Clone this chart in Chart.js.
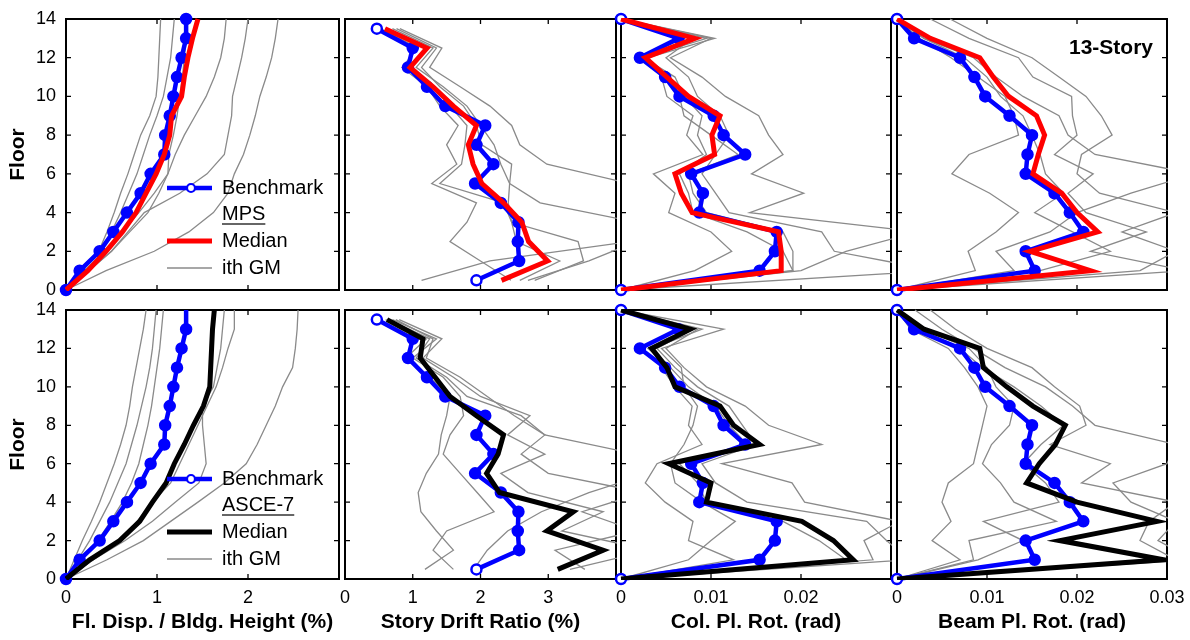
<!DOCTYPE html>
<html>
<head>
<meta charset="utf-8">
<script src="https://cdn.jsdelivr.net/npm/chart.js@4.4.1/dist/chart.umd.min.js"></script>
<style>
    html, body { margin: 0; padding: 0; background: #fff; }
    #wrap { position: relative; width: 1190px; height: 640px; overflow: hidden; background: #fff; }
    #wrap canvas { position: absolute; left: 0; top: 0; }
</style>
</head>
<body>
<div id="wrap"></div>
<script>
// floor levels and story mid-heights
const floors = [0, 1, 2, 3, 4, 5, 6, 7, 8, 9, 10, 11, 12, 13, 14];
const stories = [0.5, 1.5, 2.5, 3.5, 4.5, 5.5, 6.5, 7.5, 8.5, 9.5, 10.5, 11.5, 12.5, 13.5];
const floorTicks = [0, 2, 4, 6, 8, 10, 12, 14];

// x tick values / labels per column
const dispTicks = [0, 1, 2, 3];
const dispTickLabels = ['0', '1', '2', ''];
const driftTicks = [0, 1, 2, 3, 4];
const driftTickLabels = ['0', '1', '2', '3', ''];
const colTicks = [0, 0.01, 0.02, 0.03];
const colTickLabels = ['0', '0.01', '0.02', ''];
const beamTicks = [0, 0.01, 0.02, 0.03];
const beamTickLabels = ['0', '0.01', '0.02', '0.03'];

const xTitles = ['Fl. Disp. / Bldg. Height (%)', 'Story Drift Ratio (%)', 'Col. Pl. Rot. (rad)', 'Beam Pl. Rot. (rad)'];
const legendTop = ['Benchmark', 'MPS', 'Median', 'ith GM'];
const legendBottom = ['Benchmark', 'ASCE-7', 'Median', 'ith GM'];
const storyLabel = '13-Story';

// benchmark (same in both rows)
const benchDisp = [0, 0.15, 0.37, 0.52, 0.67, 0.82, 0.93, 1.08, 1.09, 1.14, 1.18, 1.22, 1.27, 1.32, 1.32];
const benchDrift = [1.94, 2.57, 2.55, 2.56, 2.30, 1.92, 2.19, 1.94, 2.07, 1.48, 1.21, 0.93, 1.00, 0.47];
const benchCol = [0, 0.0154, 0.0171, 0.0173, 0.0087, 0.0091, 0.0078, 0.0138, 0.0114, 0.0103, 0.0065, 0.0049, 0.0021, 0.0064, 0];
const benchBeam = [0, 0.0153, 0.0143, 0.0207, 0.0192, 0.0175, 0.0143, 0.0145, 0.0150, 0.0125, 0.0098, 0.0086, 0.0070, 0.0019, 0];

// medians: MPS (top row) and ASCE-7 (bottom row)
const mpsDisp = [0, 0.24, 0.44, 0.62, 0.77, 0.88, 0.99, 1.08, 1.14, 1.16, 1.27, 1.30, 1.34, 1.39, 1.45];
const mpsDrift = [2.31, 2.99, 2.71, 2.61, 2.34, 2.02, 1.89, 1.82, 1.94, 1.60, 1.30, 0.96, 1.21, 0.59];
const mpsCol = [0, 0.0178, 0.0178, 0.0175, 0.0079, 0.0067, 0.0060, 0.0104, 0.0101, 0.0110, 0.0075, 0.0051, 0.0027, 0.0082, 0];
const mpsBeam = [0, 0.0215, 0.0148, 0.0223, 0.0200, 0.0183, 0.0151, 0.0157, 0.0164, 0.0155, 0.0124, 0.0107, 0.0092, 0.0037, 0];

const asceDisp = [0, 0.26, 0.59, 0.81, 0.95, 1.10, 1.19, 1.30, 1.40, 1.51, 1.58, 1.59, 1.60, 1.61, 1.63];
const asceDrift = [3.14, 3.81, 2.98, 3.37, 2.28, 2.09, 2.26, 2.34, 1.94, 1.55, 1.33, 1.11, 1.15, 0.62];
const asceCol = [0, 0.0258, 0.0236, 0.0201, 0.0095, 0.0100, 0.0053, 0.0154, 0.0125, 0.0110, 0.0060, 0.0051, 0.0034, 0.0077, 0];
const asceBeam = [0, 0.0296, 0.0181, 0.0289, 0.0200, 0.0144, 0.0158, 0.0176, 0.0187, 0.0151, 0.0122, 0.0096, 0.0092, 0.0030, 0];

// individual ground motions, MPS set
const mpsGmDisp = [
    [0, 0.15, 0.36, 0.45, 0.53, 0.60, 0.68, 0.75, 0.82, 0.92, 0.99, 1.01, 1.02, 1.03, 1.04],
    [0, 0.18, 0.38, 0.50, 0.60, 0.69, 0.78, 0.85, 0.92, 1.00, 1.07, 1.11, 1.15, 1.17, 1.19],
    [0, 0.20, 0.42, 0.62, 0.80, 0.97, 1.12, 1.13, 1.18, 1.22, 1.25, 1.28, 1.30, 1.32, 1.34],
    [0, 0.25, 0.50, 0.70, 0.90, 1.02, 1.12, 1.20, 1.30, 1.42, 1.54, 1.63, 1.70, 1.74, 1.76],
    [0, 0.25, 0.50, 0.68, 0.86, 1.25, 1.55, 1.74, 1.78, 1.82, 1.83, 1.88, 1.93, 1.97, 2.00],
    [0, 0.44, 0.97, 1.35, 1.62, 1.78, 1.85, 1.95, 2.02, 2.08, 2.13, 2.20, 2.26, 2.30, 2.33]
];
const mpsGmDrift = [
    [2.45, 2.00, 1.55, 1.80, 1.94, 1.28, 1.65, 1.50, 1.67, 1.40, 1.21, 0.84, 1.08, 0.52],
    [2.58, 3.17, 2.53, 2.46, 2.34, 1.40, 1.72, 1.77, 1.80, 1.55, 1.30, 0.96, 1.21, 0.59],
    [2.80, 3.52, 3.44, 2.46, 2.41, 2.43, 2.46, 2.02, 1.94, 1.75, 1.40, 1.13, 1.35, 0.76],
    [2.70, 3.60, 4.30, 4.50, 4.60, 4.20, 2.98, 2.58, 2.46, 2.14, 1.70, 1.25, 1.43, 0.81],
    [1.13, 2.14, 4.20, 4.30, 2.88, 2.43, 2.30, 2.20, 2.00, 1.80, 1.45, 1.05, 1.30, 0.70]
];
const mpsGmCol = [
    [0, 0.0082, 0.0123, 0.0100, 0.0053, 0.0060, 0.0036, 0.0091, 0.0073, 0.0080, 0.0051, 0.0045, 0.0030, 0.0104, 0],
    [0, 0.0191, 0.0180, 0.0140, 0.0080, 0.0075, 0.0065, 0.0095, 0.0085, 0.0090, 0.0070, 0.0060, 0.0025, 0.0095, 0],
    [0, 0.0200, 0.0250, 0.0330, 0.0143, 0.0203, 0.0145, 0.0180, 0.0164, 0.0153, 0.0116, 0.0090, 0.0055, 0.0100, 0],
    [0, 0.0350, 0.0237, 0.0223, 0.0120, 0.0105, 0.0090, 0.0105, 0.0120, 0.0110, 0.0085, 0.0075, 0.0050, 0.0080, 0],
    [0, 0.0191, 0.0191, 0.0180, 0.0095, 0.0080, 0.0075, 0.0130, 0.0100, 0.0070, 0.0065, 0.0055, 0.0020, 0.0070, 0]
];
const mpsGmBeam = [
    [0, 0.0087, 0.0079, 0.0110, 0.0135, 0.0103, 0.0061, 0.0080, 0.0135, 0.0130, 0.0120, 0.0090, 0.0060, 0.0025, 0],
    [0, 0.0159, 0.0237, 0.0195, 0.0153, 0.0185, 0.0165, 0.0159, 0.0150, 0.0140, 0.0115, 0.0100, 0.0075, 0.0030, 0],
    [0, 0.0320, 0.0215, 0.0277, 0.0210, 0.0190, 0.0218, 0.0175, 0.0200, 0.0195, 0.0194, 0.0151, 0.0135, 0.0080, 0.0037],
    [0, 0.0270, 0.0310, 0.0250, 0.0310, 0.0225, 0.0200, 0.0205, 0.0239, 0.0227, 0.0210, 0.0180, 0.0150, 0.0100, 0.0059],
    [0, 0.0130, 0.0110, 0.0170, 0.0200, 0.0260, 0.0330, 0.0220, 0.0190, 0.0180, 0.0140, 0.0110, 0.0085, 0.0030, 0]
];

// individual ground motions, ASCE-7 set
const asceGmDisp = [
    [0, 0.09, 0.18, 0.28, 0.37, 0.45, 0.53, 0.60, 0.66, 0.70, 0.73, 0.77, 0.81, 0.85, 0.88],
    [0, 0.13, 0.26, 0.37, 0.48, 0.57, 0.66, 0.72, 0.78, 0.83, 0.88, 0.92, 0.95, 0.97, 0.99],
    [0, 0.17, 0.35, 0.49, 0.62, 0.72, 0.80, 0.85, 0.90, 0.94, 0.97, 1.00, 1.03, 1.05, 1.07],
    [0, 0.30, 0.65, 0.95, 1.20, 1.46, 1.54, 1.52, 1.50, 1.50, 1.62, 1.66, 1.70, 1.72, 1.74],
    [0, 0.30, 0.60, 0.78, 0.95, 1.15, 1.25, 1.35, 1.45, 1.55, 1.65, 1.72, 1.78, 1.85, 1.85],
    [0, 0.45, 0.85, 1.15, 1.45, 1.74, 1.98, 2.10, 2.20, 2.30, 2.38, 2.49, 2.52, 2.54, 2.55]
];
const asceGmDrift = [
    [1.18, 1.60, 1.35, 1.12, 1.08, 1.20, 1.38, 1.42, 1.50, 1.55, 1.25, 0.90, 1.20, 0.60],
    [1.60, 1.30, 1.50, 2.20, 1.95, 1.70, 1.45, 1.55, 1.75, 1.70, 1.45, 1.00, 1.35, 0.70],
    [3.32, 4.50, 3.20, 3.81, 2.70, 2.30, 2.95, 2.40, 2.73, 2.00, 1.60, 1.15, 1.43, 0.80],
    [3.54, 3.10, 4.30, 3.50, 4.40, 3.00, 2.60, 2.95, 2.50, 2.10, 1.70, 1.20, 1.30, 0.75],
    [1.90, 2.10, 2.40, 2.90, 3.60, 4.50, 4.30, 2.95, 2.60, 1.80, 1.50, 1.05, 1.25, 0.65]
];
const asceGmCol = [
    [0, 0.0125, 0.0075, 0.0080, 0.0049, 0.0027, 0.0040, 0.0090, 0.0075, 0.0079, 0.0060, 0.0045, 0.0035, 0.0090, 0],
    [0, 0.0075, 0.0100, 0.0127, 0.0090, 0.0060, 0.0055, 0.0070, 0.0080, 0.0085, 0.0070, 0.0067, 0.0045, 0.0114, 0],
    [0, 0.0280, 0.0270, 0.0310, 0.0204, 0.0190, 0.0112, 0.0223, 0.0164, 0.0138, 0.0095, 0.0070, 0.0050, 0.0085, 0],
    [0, 0.0320, 0.0295, 0.0273, 0.0140, 0.0105, 0.0090, 0.0150, 0.0135, 0.0120, 0.0085, 0.0060, 0.0040, 0.0080, 0],
    [0, 0.0250, 0.0220, 0.0180, 0.0095, 0.0085, 0.0065, 0.0140, 0.0120, 0.0105, 0.0075, 0.0055, 0.0030, 0.0075, 0]
];
const asceGmBeam = [
    [0, 0.0070, 0.0039, 0.0060, 0.0050, 0.0057, 0.0085, 0.0090, 0.0095, 0.0100, 0.0090, 0.0075, 0.0057, 0.0015, 0],
    [0, 0.0085, 0.0080, 0.0177, 0.0130, 0.0115, 0.0095, 0.0105, 0.0125, 0.0130, 0.0110, 0.0100, 0.0080, 0.0030, 0],
    [0, 0.0310, 0.0270, 0.0280, 0.0310, 0.0205, 0.0237, 0.0170, 0.0210, 0.0203, 0.0175, 0.0150, 0.0100, 0.0065, 0.0037],
    [0, 0.0330, 0.0290, 0.0310, 0.0260, 0.0240, 0.0300, 0.0310, 0.0220, 0.0195, 0.0165, 0.0120, 0.0085, 0.0050, 0.0020],
    [0, 0.0090, 0.0140, 0.0096, 0.0180, 0.0165, 0.0140, 0.0160, 0.0185, 0.0160, 0.0130, 0.0095, 0.0070, 0.0025, 0]
];

Chart.defaults.font.family = '"Liberation Sans", Arial, Helvetica, sans-serif';
Chart.defaults.color = '#000';

const BLUE = '#0000ff';
const GRAY = '#8a8a8a';
const COLS = [{ l: 66, r: 339 }, { l: 345, r: 616 }, { l: 621, r: 891 }, { l: 897, r: 1167 }];
const ROWS = [{ t: 19, b: 290 }, { t: 310, b: 579 }];

const framePlugin = {
    id: 'frame',
    beforeDatasetsDraw(chart) {
        const { ctx, chartArea: a, scales: { x, y } } = chart;
        ctx.save();
        ctx.strokeStyle = '#000';
        ctx.lineWidth = 1.3;
        ctx.beginPath();
        x.ticks.forEach(t => {
            const px = x.getPixelForValue(t.value);
            ctx.moveTo(px, a.bottom); ctx.lineTo(px, a.bottom - 5);
            ctx.moveTo(px, a.top); ctx.lineTo(px, a.top + 5);
        });
        y.ticks.forEach(t => {
            const py = y.getPixelForValue(t.value);
            ctx.moveTo(a.left, py); ctx.lineTo(a.left + 5, py);
            ctx.moveTo(a.right, py); ctx.lineTo(a.right - 5, py);
        });
        ctx.stroke();
        ctx.lineWidth = 2;
        ctx.strokeRect(a.left, a.top, a.right - a.left, a.bottom - a.top);
        ctx.restore();
    }
};

const notePlugin = {
    id: 'note',
    afterDraw(chart, args, opts) {
        const { ctx, chartArea: a } = chart;
        ctx.save();
        if (opts.legend) {
            const rows = [169, 195, 222, 249].map(d => a.top + d);
            const x0 = 167, x1 = 212, tx = 222;
            ctx.font = '20px "Liberation Sans", Arial, sans-serif';
            ctx.textBaseline = 'middle';
            // benchmark sample
            ctx.strokeStyle = BLUE; ctx.lineWidth = 4.5;
            ctx.beginPath(); ctx.moveTo(x0, rows[0]); ctx.lineTo(x1, rows[0]); ctx.stroke();
            ctx.lineWidth = 2.2; ctx.fillStyle = '#fff';
            ctx.beginPath(); ctx.arc(191, rows[0], 4, 0, Math.PI * 2); ctx.fill(); ctx.stroke();
            // median sample
            ctx.strokeStyle = opts.medianColor; ctx.lineWidth = 5;
            ctx.beginPath(); ctx.moveTo(x0, rows[2]); ctx.lineTo(x1, rows[2]); ctx.stroke();
            // gm sample
            ctx.strokeStyle = GRAY; ctx.lineWidth = 1.3;
            ctx.beginPath(); ctx.moveTo(x0, rows[3]); ctx.lineTo(x1, rows[3]); ctx.stroke();
            ctx.fillStyle = '#000';
            opts.legend.forEach((txt, i) => ctx.fillText(txt, tx, rows[i]));
            const w = ctx.measureText(opts.legend[1]).width;
            ctx.strokeStyle = '#333'; ctx.lineWidth = 1.3;
            ctx.beginPath(); ctx.moveTo(tx, rows[1] + 10); ctx.lineTo(tx + w, rows[1] + 10); ctx.stroke();
        }
        if (opts.label) {
            ctx.font = 'bold 21px "Liberation Sans", Arial, sans-serif';
            ctx.textAlign = 'right';
            ctx.textBaseline = 'middle';
            ctx.fillStyle = '#000';
            ctx.fillText(opts.label, a.right - 14, a.top + 29);
        }
        ctx.restore();
    }
};

function toPoints(values, levels) {
    return values.map((v, i) => ({ x: v, y: levels[i] }));
}

function makePanel(row, col, cfg) {
    const canvas = document.createElement('canvas');
    canvas.width = 1190;
    canvas.height = 640;
    document.getElementById('wrap').appendChild(canvas);

    const C = COLS[col], R = ROWS[row];
    const showY = col === 0, showX = row === 1;
    const yW = showY ? 64 : 0;
    const xH = showX ? 60 : 0;
    const n = cfg.bench.length;

    const datasets = [{
        data: toPoints(cfg.median, cfg.levels),
        borderColor: cfg.medianColor, borderWidth: 5, pointRadius: 0, clip: 1
    }, {
        data: toPoints(cfg.bench, cfg.levels),
        borderColor: BLUE, borderWidth: 4.5, clip: false,
        pointRadius: cfg.bench.map((v, i) => (cfg.hideTop && i === n - 1) ? 0 : 5),
        pointBorderWidth: 2.5, pointBorderColor: BLUE,
        pointBackgroundColor: cfg.bench.map((v, i) => (cfg.hollowEnds && (i === 0 || i === n - 1)) ? '#fff' : BLUE)
    }];
    cfg.gms.forEach(g => datasets.push({
        data: toPoints(g, cfg.levels), borderColor: GRAY, borderWidth: 1.3, pointRadius: 0, clip: 1
    }));

    new Chart(canvas, {
        type: 'line',
        data: { datasets },
        options: {
            responsive: false,
            animation: false,
            indexAxis: 'y',
            events: [],
            layout: { padding: { left: C.l - yW, right: 1190 - C.r, top: R.t, bottom: 640 - R.b - xH } },
            plugins: {
                legend: { display: false },
                tooltip: { enabled: false },
                note: { legend: showY ? cfg.legend : null, medianColor: cfg.medianColor, label: cfg.label || null }
            },
            scales: {
                x: {
                    type: 'linear', position: 'bottom', min: 0, max: cfg.xTicks[cfg.xTicks.length - 1],
                    grid: { display: false, drawTicks: false }, border: { display: false },
                    afterBuildTicks: s => { s.ticks = cfg.xTicks.map(v => ({ value: v })); },
                    afterFit: s => { s.height = xH; s.paddingLeft = 0; s.paddingRight = 0; },
                    ticks: {
                        display: showX, padding: 8, autoSkip: false, maxRotation: 0,
                        font: { size: 18 }, color: '#000',
                        callback: (v, i) => cfg.xLabels[i]
                    },
                    title: {
                        display: showX, text: cfg.xTitle, color: '#000',
                        font: { size: 21, weight: 'bold' }, padding: { top: 4, bottom: 4 }
                    }
                },
                y: {
                    type: 'linear', position: 'left', min: 0, max: 14,
                    grid: { display: false, drawTicks: false }, border: { display: false },
                    afterBuildTicks: s => { s.ticks = floorTicks.map(v => ({ value: v })); },
                    afterFit: s => { s.width = yW; s.paddingTop = 0; s.paddingBottom = 0; },
                    ticks: { display: showY, padding: 10, font: { size: 18 }, color: '#000', callback: v => String(v) },
                    title: {
                        display: showY, text: 'Floor', color: '#000',
                        font: { size: 21, weight: 'bold' }, padding: { top: 4, bottom: 4 }
                    }
                }
            }
        },
        plugins: [framePlugin, notePlugin]
    });
}

const panels = [
    { levels: floors, bench: benchDisp, xTicks: dispTicks, xLabels: dispTickLabels, xTitle: xTitles[0], hollowEnds: false,
      top: { median: mpsDisp, gms: mpsGmDisp }, bottom: { median: asceDisp, gms: asceGmDisp, hideTop: true } },
    { levels: stories, bench: benchDrift, xTicks: driftTicks, xLabels: driftTickLabels, xTitle: xTitles[1], hollowEnds: true,
      top: { median: mpsDrift, gms: mpsGmDrift }, bottom: { median: asceDrift, gms: asceGmDrift } },
    { levels: floors, bench: benchCol, xTicks: colTicks, xLabels: colTickLabels, xTitle: xTitles[2], hollowEnds: true,
      top: { median: mpsCol, gms: mpsGmCol }, bottom: { median: asceCol, gms: asceGmCol } },
    { levels: floors, bench: benchBeam, xTicks: beamTicks, xLabels: beamTickLabels, xTitle: xTitles[3], hollowEnds: true,
      top: { median: mpsBeam, gms: mpsGmBeam, label: storyLabel }, bottom: { median: asceBeam, gms: asceGmBeam } }
];

panels.forEach((p, col) => {
    makePanel(0, col, Object.assign({}, p, p.top, { medianColor: '#ff0000', legend: legendTop }));
    makePanel(1, col, Object.assign({}, p, p.bottom, { medianColor: '#000000', legend: legendBottom }));
});
</script>
</body>
</html>
